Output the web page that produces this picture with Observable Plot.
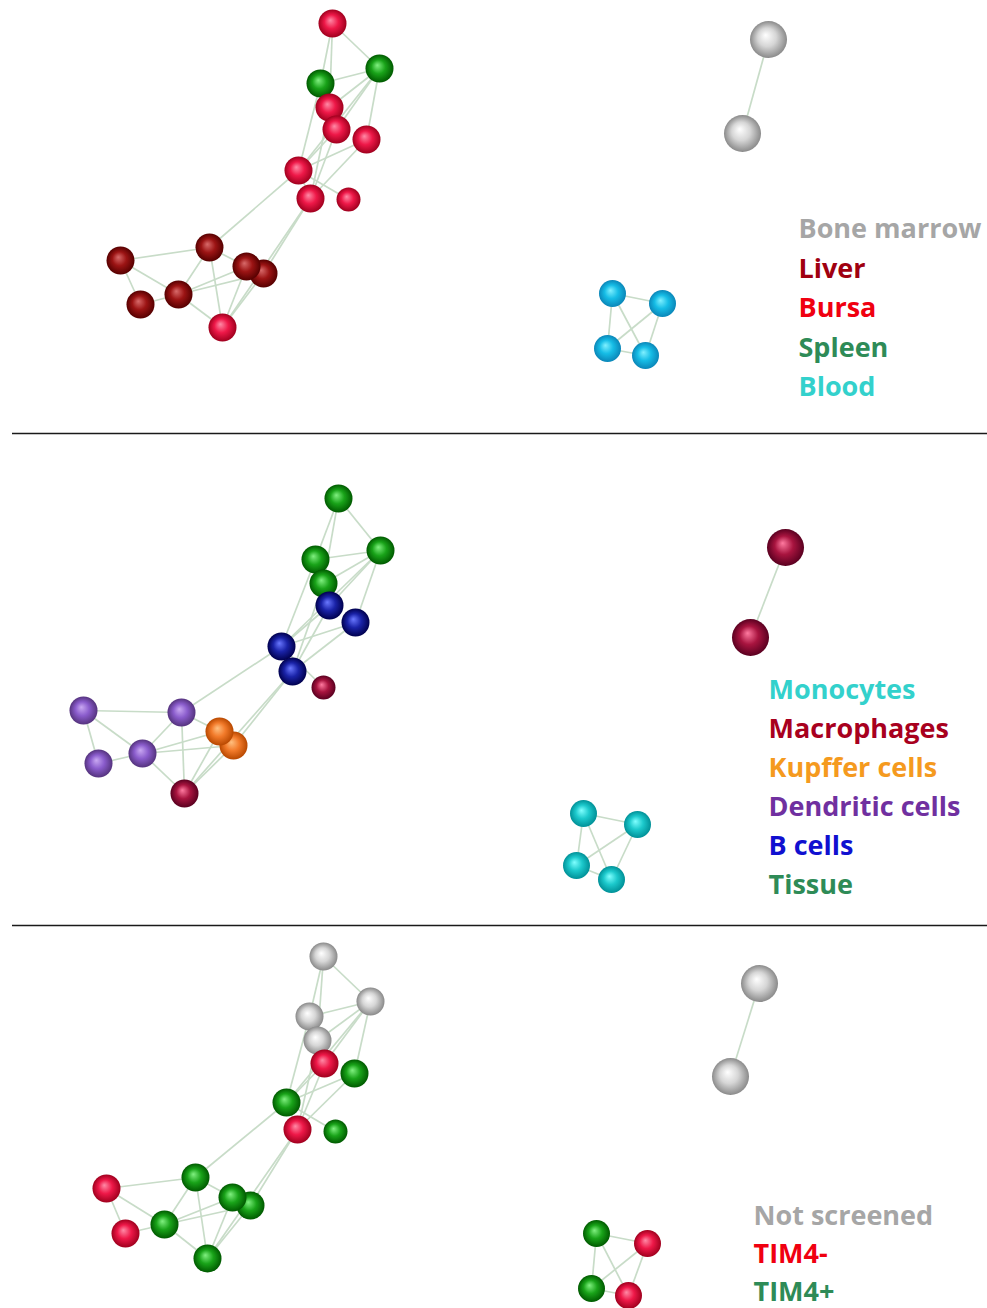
<!DOCTYPE html>
<html><head><meta charset="utf-8">
<script src="https://cdn.jsdelivr.net/npm/d3@7"></script>
<script src="https://cdn.jsdelivr.net/npm/@observablehq/plot@0.6"></script>
<style>html,body{margin:0;padding:0;background:#fff}#chart svg{display:block}</style>
</head><body><div id="chart"></div>
<script>
// ---- Data: network layout, one position set per panel ----
// node order: 0-15 main cluster (8 = pendant node), 16-17 isolated pair, 18-21 four-node cluster
const nodeComponent = ["main","main","main","main","main","main","main","main","leaf","main","main","main","main","main","main","main","pair","pair","quad","quad","quad","quad"];

// edges (node index pairs), same network in all panels
const edgeSource = [0,0,0,2,2,1,1,1,1,2,3,4,4,5,5,6,6,6,7,7,9,10,10,14,9,13,13,9,9,12,11,13,16,18,18,18,19,19,20];
const edgeTarget = [1,2,3,1,3,3,4,5,6,6,7,6,7,6,7,7,8,9,11,15,10,14,13,13,13,12,11,12,15,15,15,15,17,19,20,21,20,21,21];

// Panel 1: tissue of origin
const tissueX = [332,379,320,329,336,366,298,310,348,209,120,263,246,178,140,222,768,742,612,662,607,645];
const tissueY = [23,68,83,107,129,139,170,198,199,247,260,273,266,294,304,327,39,133,293,303,348,355];
const tissueGroup = ["Bursa","Spleen","Spleen","Bursa","Bursa","Bursa","Bursa","Bursa","Bursa","Liver","Liver","Liver","Liver","Liver","Liver","Bursa","Bone marrow","Bone marrow","Blood","Blood","Blood","Blood"];
const tissueLegend = ["Bone marrow","Liver","Bursa","Spleen","Blood"];

// Panel 2: cell type
const cellX = [338,380,315,323,329,355,281,292,323,181,83,233,219,142,98,184,785,750,583,637,576,611];
const cellY = [498,550,559,583,605,622,646,671,687,712,710,745,731,753,763,793,547,637,813,824,865,879];
const cellGroup = ["Tissue","Tissue","Tissue","Tissue","B cells","B cells","B cells","B cells","Macrophages","Dendritic cells","Dendritic cells","Kupffer cells","Kupffer cells","Dendritic cells","Dendritic cells","Macrophages","Macrophages","Macrophages","Monocytes","Monocytes","Monocytes","Monocytes"];
const cellLegend = ["Monocytes","Macrophages","Kupffer cells","Dendritic cells","B cells","Tissue"];

// Panel 3: TIM4 status
const timX = [323,370,309,317,324,354,286,297,335,195,106,250,232,164,125,207,759,730,596,647,591,628];
const timY = [956,1001,1016,1040,1063,1073,1102,1129,1131,1177,1188,1205,1197,1224,1233,1258,983,1076,1233,1243,1288,1295];
const timGroup = ["Not screened","Not screened","Not screened","Not screened","TIM4-","TIM4+","TIM4+","TIM4-","TIM4+","TIM4+","TIM4-","TIM4+","TIM4+","TIM4+","TIM4-","TIM4+","Not screened","Not screened","TIM4+","TIM4-","TIM4+","TIM4-"];
const timLegend = ["Not screened","TIM4-","TIM4+"];

// ---- Styles ----
const W = 987, H = 1308;
const textColor = {
  "Bone marrow":"#a6a6a6","Liver":"#a00010","Bursa":"#f00010","Spleen":"#2e8b57","Blood":"#33d1cc",
  "Monocytes":"#33d1cc","Macrophages":"#a8001e","Kupffer cells":"#f59a1e","Dendritic cells":"#7030a0","B cells":"#1010d0","Tissue":"#2e8b57",
  "Not screened":"#a6a6a6","TIM4-":"#f00010","TIM4+":"#2e8b57"
};
const RED = ["#ff8aa6","#ee1848","#a0001e"], GREEN = ["#80f080","#19a319","#005a00"], GREY = ["#ffffff","#d6d6d6","#8a8a8a"];
const sphere = {
  "Bursa":RED,"Liver":["#d86a6a","#9c1414","#560000"],"Spleen":GREEN,"Bone marrow":GREY,"Blood":["#80f0ff","#16bde6","#0a86b8"],
  "Tissue":GREEN,"B cells":["#6a78ff","#1a23a8","#00004e"],"Macrophages":["#ff7aa0","#a8143f","#5a0020"],
  "Dendritic cells":["#c9a8f2","#8a5ccc","#55337e"],"Kupffer cells":["#ffc080","#f27a2a","#b84800"],"Monocytes":["#80ffff","#1cc9cc","#009097"],
  "Not screened":GREY,"TIM4-":RED,"TIM4+":GREEN
};
const sphereKeys = Object.keys(sphere);
const gradId = s => "sph-" + sphereKeys.indexOf(s);
const radius = {main: 14, leaf: 12, quad: 13.5, pair: 18.5};

const panels = [
  {x: tissueX, y: tissueY, group: tissueGroup, legend: tissueLegend, lx: 798, ly: 229, step: 39.5},
  {x: cellX, y: cellY, group: cellGroup, legend: cellLegend, lx: 768, ly: 690, step: 39},
  {x: timX, y: timY, group: timGroup, legend: timLegend, lx: 753, ly: 1216, step: 38}
];

const nodes = panels.flatMap((p, pi) => p.x.map((x, i) => ({panel: pi, i, x, y: p.y[i], group: p.group[i], comp: nodeComponent[i]})));
const links = panels.flatMap(p => edgeSource.map((s, k) => ({x1: p.x[s], y1: p.y[s], x2: p.x[edgeTarget[k]], y2: p.y[edgeTarget[k]]})));
const legendRows = panels.flatMap(p => p.legend.map((label, k) => ({label, x: p.lx, y: p.ly + k * p.step})));

const svg = Plot.plot({
  width: W, height: H, margin: 0,
  x: {domain: [0, W], range: [0, W], axis: null},
  y: {domain: [0, H], range: [0, H], axis: null},
  color: {type: "identity"},
  r: {type: "identity"},
  marks: [
    Plot.ruleY([433, 925], {x1: 12, x2: W, stroke: "#1a1a1a", strokeWidth: 1.6}),
    Plot.link(links, {x1: "x1", y1: "y1", x2: "x2", y2: "y2", stroke: "#c8dcc8", strokeWidth: 1.7}),
    Plot.dot(nodes, {x: "x", y: "y", r: d => radius[d.comp], fill: d => `url(#${gradId(d.group)})`, stroke: "none"}),
    Plot.text(legendRows, {x: "x", y: "y", text: "label", fill: d => textColor[d.label], textAnchor: "start", lineAnchor: "middle",
      fontSize: 27, fontWeight: "bold", fontFamily: "'Open Sans', sans-serif"})
  ]
});

const defs = d3.select(svg).insert("defs", ":first-child");
for (const [key, c] of Object.entries(sphere)) {
  const g = defs.append("radialGradient").attr("id", gradId(key))
    .attr("cx", "50%").attr("cy", "50%").attr("r", "50%").attr("fx", "42%").attr("fy", "38%");
  g.append("stop").attr("offset", "0%").attr("stop-color", c[0]);
  g.append("stop").attr("offset", "50%").attr("stop-color", c[1]);
  g.append("stop").attr("offset", "100%").attr("stop-color", c[2]);
}
document.getElementById("chart").appendChild(svg);
</script>
</body></html>
